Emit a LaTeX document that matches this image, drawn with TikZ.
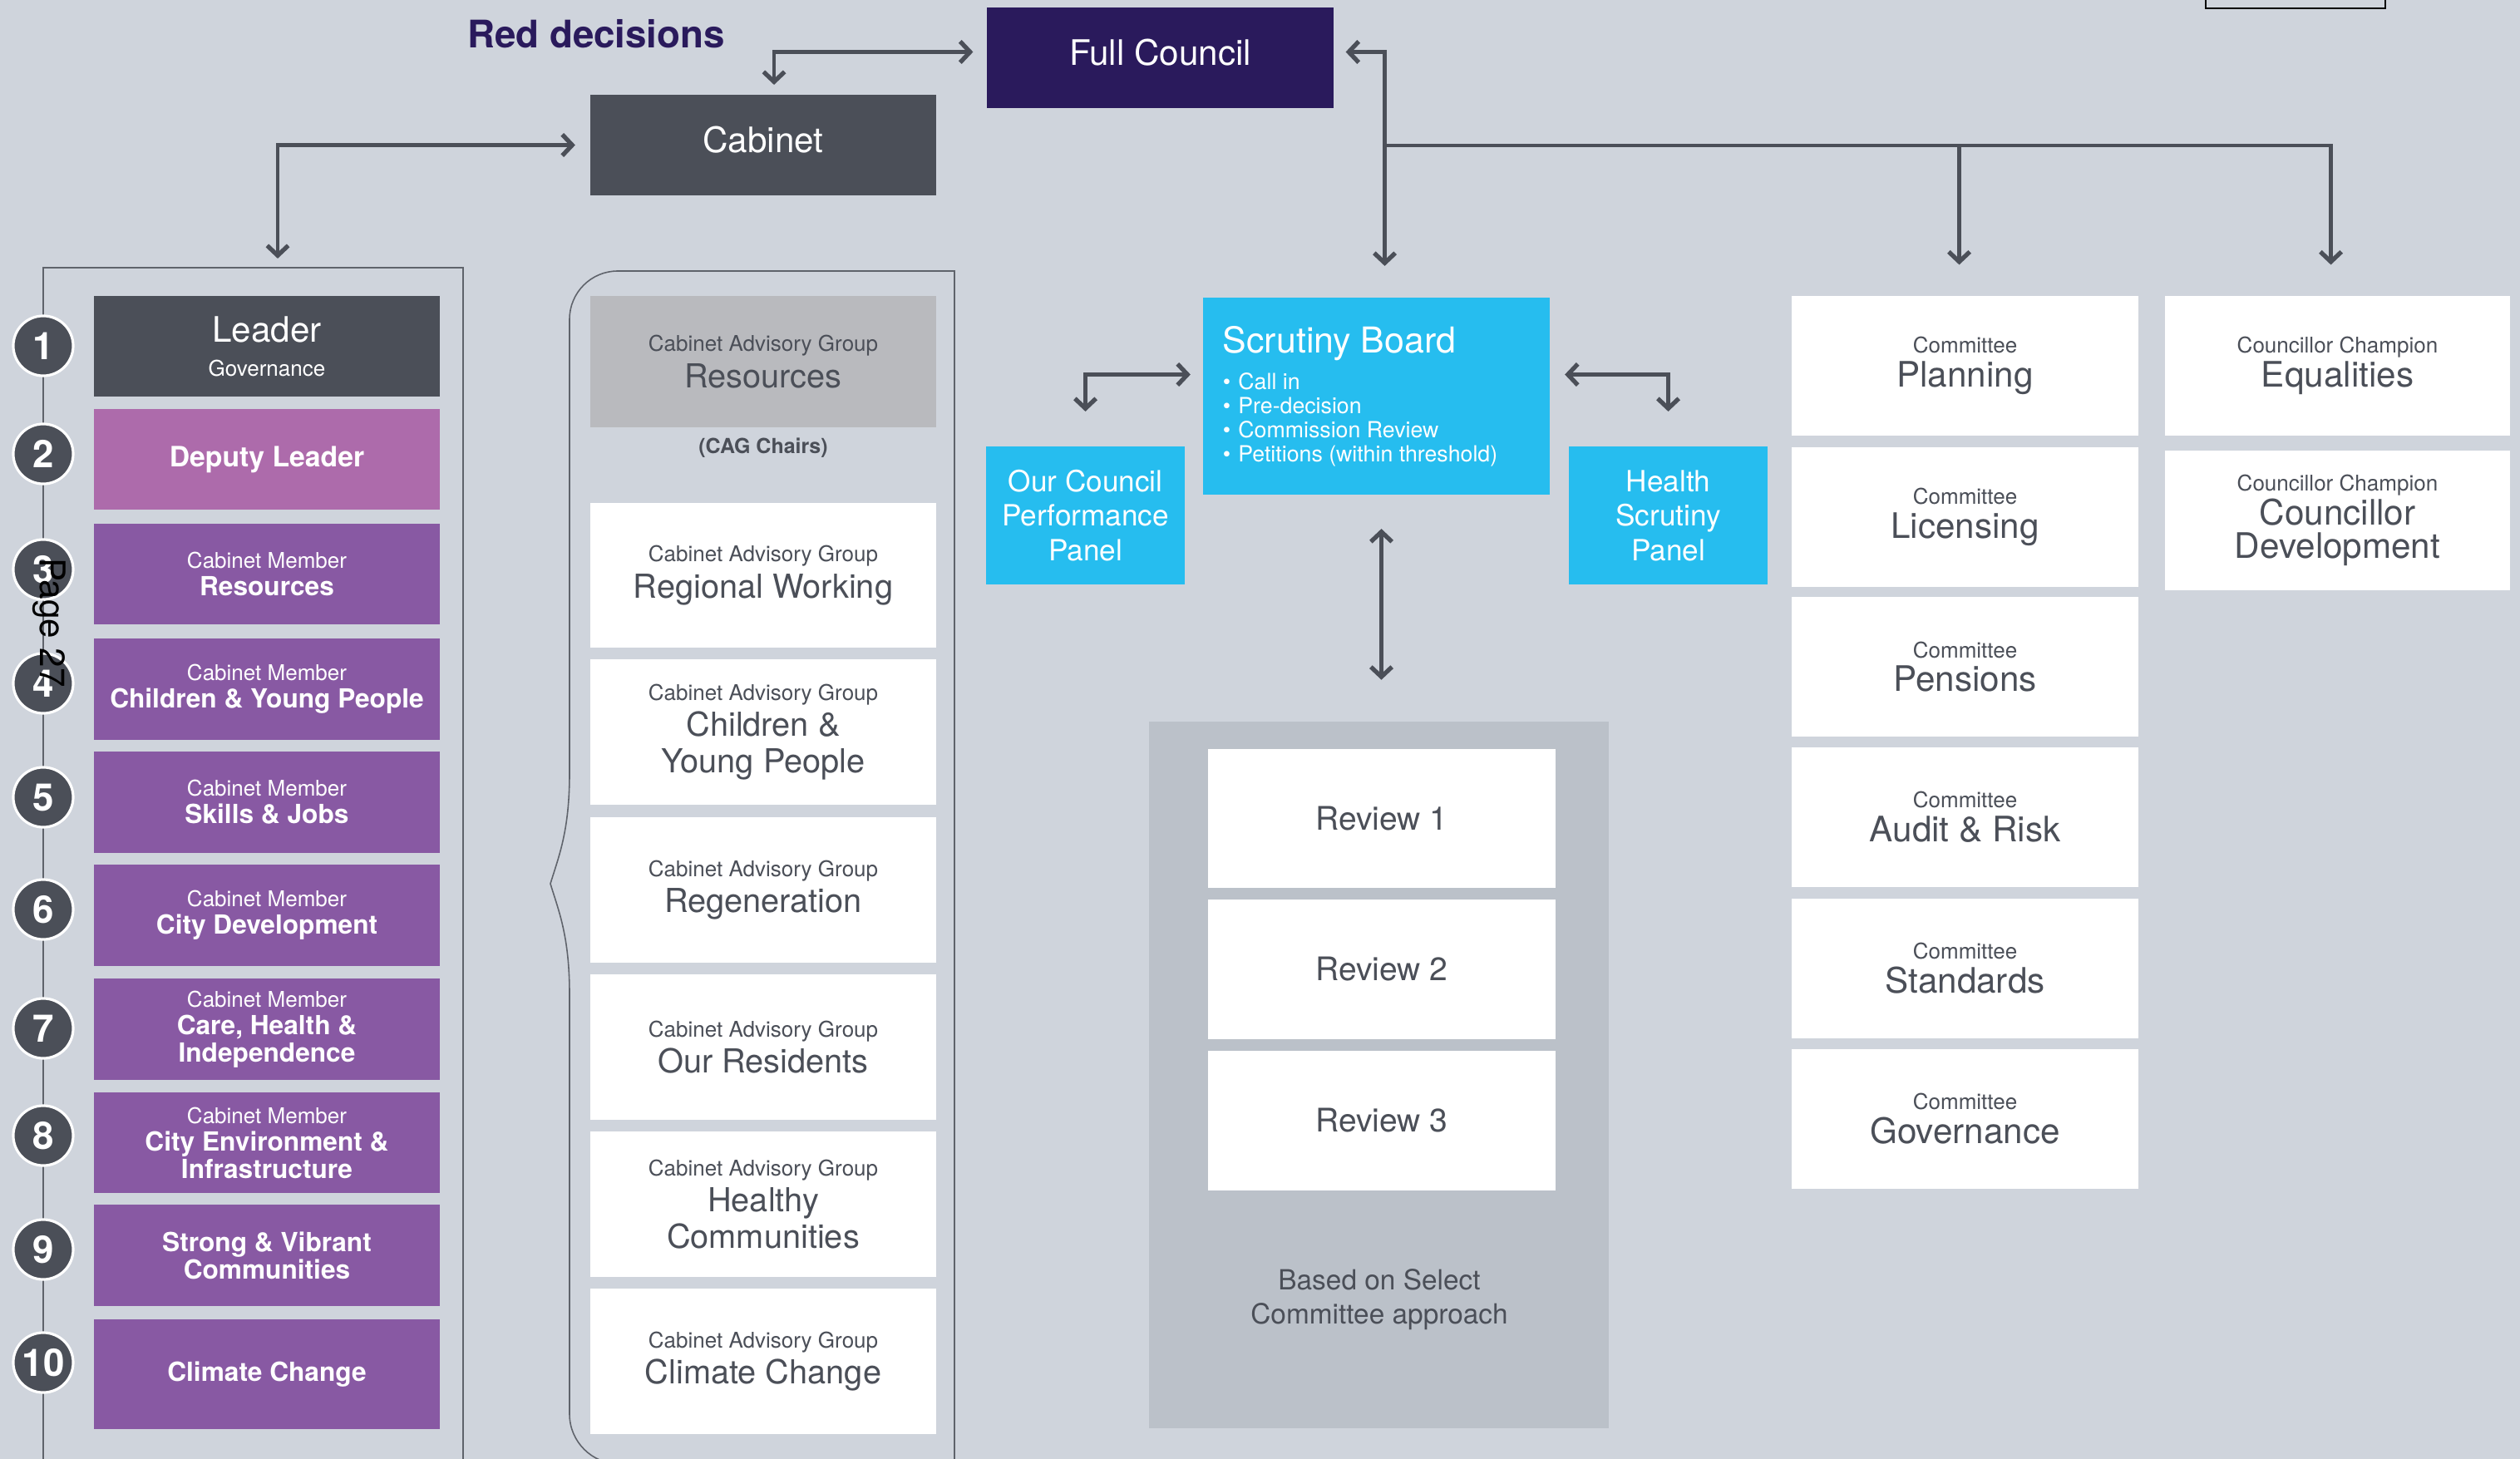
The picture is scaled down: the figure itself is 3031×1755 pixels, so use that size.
\documentclass[tikz,border=0pt]{standalone}
\usepackage{fontspec}
\setmainfont{TeX Gyre Heros}
\usetikzlibrary{arrows.meta,calc,positioning}

\definecolor{bgGrey}{RGB}{207,212,220}
\definecolor{darkSlate}{RGB}{75,79,88}
\definecolor{councilPurple}{RGB}{42,26,92}
\definecolor{deputyPink}{RGB}{173,107,171}
\definecolor{memberPurple}{RGB}{136,89,163}
\definecolor{scrutinyBlue}{RGB}{38,189,239}
\definecolor{cagGrey}{RGB}{185,186,190}
\definecolor{reviewGrey}{RGB}{187,193,201}
\definecolor{panelLine}{RGB}{95,99,107}

\newcommand{\memberline}[1]{{\bfseries\fontsize{9}{9.4}\selectfont #1}}
\newcommand{\cagline}[1]{{\fontsize{11.3}{12.4}\selectfont #1}}
\newcommand{\committeeline}[1]{{\fontsize{12}{11.6}\selectfont #1}}
\newcommand{\sbullet}{\textbullet\hspace{2.6pt}}

\begin{document}
\begin{tikzpicture}[
	%	style def
	x=0.01cm, y=-0.01cm,
	>={Straight Barb[length=3.4pt,width=7.2pt,line width=1.5pt]},
	link line/.style={draw=darkSlate, line width=1.2pt},
	panel line/.style={draw=panelLine, line width=0.45pt},
	every node/.style={inner sep=0pt, outer sep=0pt},
	top box/.style={minimum width=4.16cm, minimum height=1.21cm, text=white, text height=8.6pt, text depth=3.2pt, font=\fontsize{12}{14}\selectfont},
	member box/.style={minimum width=4.16cm, minimum height=1.21cm, fill=memberPurple, text=white, align=center, font=\fontsize{7.4}{9.4}\selectfont},
	number circle/.style={circle, minimum size=0.72cm, fill=darkSlate, draw=white, line width=0.9pt, text=white, font=\bfseries\fontsize{13}{15}\selectfont},
	cag box/.style={minimum width=4.16cm, minimum height=1.74cm, fill=white, text=darkSlate, align=center, font=\fontsize{7.4}{12.4}\selectfont},
	blue box/.style={fill=scrutinyBlue, text=white},
	committee box/.style={minimum width=4.17cm, minimum height=1.67cm, fill=white, text=darkSlate, align=center, font=\fontsize{7.4}{11.6}\selectfont},
	review box/.style={minimum width=4.17cm, minimum height=1.67cm, fill=white, text=darkSlate, font=\fontsize{11.1}{13}\selectfont}
	]

	% page area
	\useasboundingbox (0,0) rectangle (3031,1755);
	\clip (0,0) rectangle (3031,1755);
	\fill[bgGrey] (0,0) rectangle (3031,1755);
	\draw[black, line width=0.75pt] (2653,-20) rectangle (2869,10);

	% top of the tree
	\node[font=\bfseries\fontsize{13}{15}\selectfont, text=councilPurple] (redtitle) at (717,41) {Red decisions};
	\node[top box, fill=councilPurple] (council) at (1395.5,69.5) {Full Council};
	\node[top box, fill=darkSlate] (cabinet) at (918,174.5) {Cabinet};

	% cabinet members (frame, boxes, numbers)
	\draw[panel line] (52,1790) -- (52,322) -- (557,322) -- (557,1790);
	\node[member box, fill=darkSlate, font=\fontsize{7.4}{11.6}\selectfont] (leader) at (321,416.5) {{\fontsize{12}{14}\selectfont Leader}\\Governance};
	\node[member box, fill=deputyPink, font=\bfseries\fontsize{9.6}{11}\selectfont] (deputy) at (321,552.5) {Deputy Leader};
	\node[member box] (mres) at (321,690.5) {Cabinet Member\\\memberline{Resources}};
	\node[member box] (mcyp) at (321,829) {Cabinet Member\\\memberline{Children \& Young People}};
	\node[member box] (mskills) at (321,965) {Cabinet Member\\\memberline{Skills \& Jobs}};
	\node[member box] (mcity) at (321,1101) {Cabinet Member\\\memberline{City Development}};
	\node[member box] (mcare) at (321,1238) {Cabinet Member\\\memberline{Care, Health \&}\\\memberline{Independence}};
	\node[member box] (menv) at (321,1374.5) {Cabinet Member\\\memberline{City Environment \&}\\\memberline{Infrastructure}};
	\node[member box] (mstrong) at (321,1510) {\memberline{Strong \& Vibrant}\\\memberline{Communities}};
	\node[member box, minimum height=1.32cm] (mclimate) at (321,1653) {\memberline{Climate Change}};

	\node[number circle] (n1) at (52,416) {1};
	\node[number circle] (n2) at (52,546) {2};
	\node[number circle] (n3) at (52,685) {3};
	\node[number circle] (n4) at (52,822) {4};
	\node[number circle] (n5) at (52,959) {5};
	\node[number circle] (n6) at (52,1094) {6};
	\node[number circle] (n7) at (52,1237) {7};
	\node[number circle] (n8) at (52,1366) {8};
	\node[number circle] (n9) at (52,1503) {9};
	\node[number circle] (n10) at (52,1639) {10};
	\node[rotate=-90, text=black, font=\fontsize{12}{14}\selectfont] (pagemark) at (59,749) {Page 27};

	% advisory groups with brace frame
	\draw[panel line] (1148,1790) -- (1148,326) -- (743,326)
		.. controls (711,326) and (685,352) .. (685,384) -- (685,930)
		.. controls (685,1000) and (672,1030) .. (662,1063)
		.. controls (672,1096) and (685,1126) .. (685,1196) -- (685,1701)
		.. controls (685,1734) and (712,1761) .. (745,1761) -- (1148,1761);
	\node[cag box, fill=cagGrey, minimum height=1.58cm] (cagres) at (918,435) {Cabinet Advisory Group\\\cagline{Resources}};
	\node[font=\bfseries\fontsize{7.1}{8}\selectfont, text=darkSlate] (chairs) at (918,539) {(CAG Chairs)};
	\node[cag box] (cagreg) at (918,692) {Cabinet Advisory Group\\\cagline{Regional Working}};
	\node[cag box] (cagcyp) at (918,880.5) {Cabinet Advisory Group\\\cagline{Children \&}\\\cagline{Young People}};
	\node[cag box] (cagregen) at (918,1070.5) {Cabinet Advisory Group\\\cagline{Regeneration}};
	\node[cag box] (cagresid) at (918,1259.5) {Cabinet Advisory Group\\\cagline{Our Residents}};
	\node[cag box] (caghealth) at (918,1448.5) {Cabinet Advisory Group\\\cagline{Healthy}\\\cagline{Communities}};
	\node[cag box] (cagclimate) at (918,1637.5) {Cabinet Advisory Group\\\cagline{Climate Change}};

	% scrutiny
	\node[blue box, minimum width=4.17cm, minimum height=2.37cm, text width=3.69cm, align=flush left] (scrutiny) at (1655.5,476.5) {%
		{\fontsize{12.2}{14}\selectfont Scrutiny Board\par}
		\vspace{3.1pt}
		{\fontsize{7.6}{8.25}\selectfont\sbullet Call in\par\sbullet Pre-decision\par\sbullet Commission Review\par\sbullet Petitions (within threshold)\par}};
	\node[blue box, minimum width=2.39cm, minimum height=1.66cm, align=center, font=\fontsize{10}{11.8}\selectfont] (ourcouncil) at (1305.5,620) {Our Council\\Performance\\Panel};
	\node[blue box, minimum width=2.39cm, minimum height=1.66cm, align=center, font=\fontsize{10}{11.8}\selectfont] (health) at (2006.5,620) {Health\\Scrutiny\\Panel};

	% reviews
	\node[fill=reviewGrey, minimum width=5.53cm, minimum height=8.50cm] (reviews) at (1658.5,1293) {};
	\node[review box] (review1) at (1662,984.5) {Review 1};
	\node[review box] (review2) at (1662,1166) {Review 2};
	\node[review box] (review3) at (1662,1348) {Review 3};
	\node[text=darkSlate, align=center, font=\fontsize{9.5}{11.6}\selectfont] (basedon) at (1659,1563) {Based on Select\\Committee approach};

	% committees and champions
	\node[committee box] (planning) at (2363.5,440) {Committee\\\committeeline{Planning}};
	\node[committee box] (licensing) at (2363.5,622) {Committee\\\committeeline{Licensing}};
	\node[committee box] (pensions) at (2363.5,802) {Committee\\\committeeline{Pensions}};
	\node[committee box] (audit) at (2363.5,983) {Committee\\\committeeline{Audit \& Risk}};
	\node[committee box] (standards) at (2363.5,1165) {Committee\\\committeeline{Standards}};
	\node[committee box] (governance) at (2363.5,1346) {Committee\\\committeeline{Governance}};
	\node[committee box, minimum width=4.15cm] (equal) at (2811.5,440) {Councillor Champion\\\committeeline{Equalities}};
	\node[committee box, minimum width=4.15cm] (devel) at (2811.5,626) {Councillor Champion\\\committeeline{Councillor}\\\committeeline{Development}};

	% connectors
	\draw[link line, <->] ([shift={(13,-12)}]cabinet.north) |- ([shift={(-17,-7)}]council.west);
	\draw[link line, <->] ([shift={(13,-45)}]leader.north) |- ([shift={(-18,0)}]cabinet.west);
	\draw[link line, <->] ([shift={(15,-7)}]council.east) -| ([shift={(10,-38)}]scrutiny.north);
	\coordinate (hub) at ([shift={(10,-183)}]scrutiny.north);
	\draw[link line, ->] (hub) -| ([shift={(-8,-38)}]equal.north);
	\draw[link line, ->] ($(hub -| planning.north)+(-7,0)$) -- ([shift={(-7,-38)}]planning.north);
	\draw[link line, <->] ([shift={(0,-42)}]ourcouncil.north) |- ([shift={(-15,-26)}]scrutiny.west);
	\draw[link line, <->] ([shift={(0,-42)}]health.north) |- ([shift={(18,-26)}]scrutiny.east);
	\draw[link line, <->] ([shift={(6,41)}]scrutiny.south) -- ([shift={(3,-50)}]reviews.north);
\end{tikzpicture}
\end{document}
